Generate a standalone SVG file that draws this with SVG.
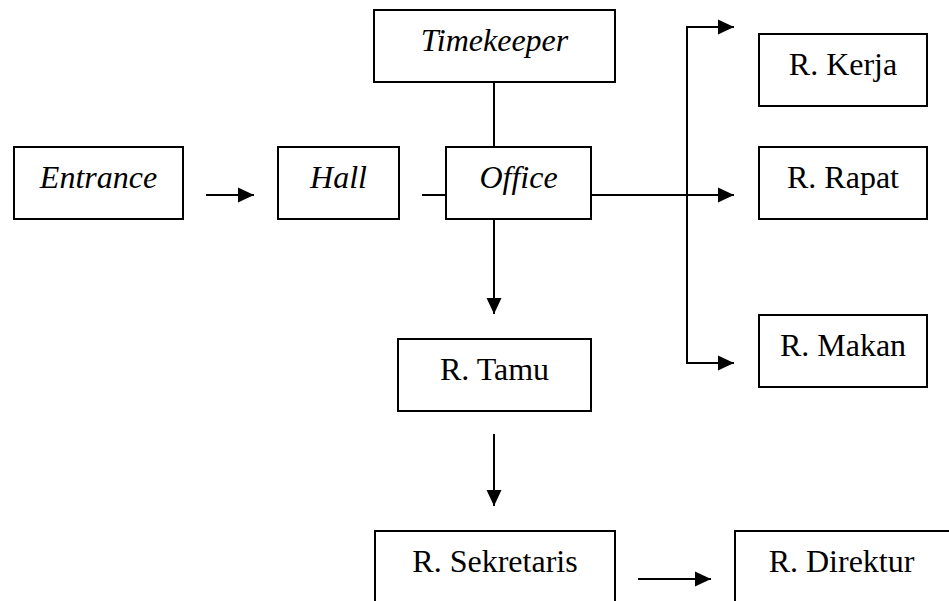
<svg xmlns="http://www.w3.org/2000/svg" width="949" height="601" viewBox="0 0 949 601">
<style>
.box{fill:#fff;stroke:#000;stroke-width:2}
text{font-family:'Liberation Serif','DejaVu Serif',serif;font-size:32px;text-anchor:middle;fill:#000}
.i{font-style:italic}
.c{fill:none;stroke:#000;stroke-width:2}
</style>
<defs>
<marker id="ah" markerUnits="userSpaceOnUse" markerWidth="17" markerHeight="17" viewBox="0 0 17 17" refX="16" refY="8.5" orient="auto">
<path d="M0,1 L16,8.5 L0,16 Z" fill="#000"/>
</marker>
</defs>
<rect width="949" height="601" fill="#fff"/>
<g id="connectors">
<line class="c" x1="206" y1="195" x2="254" y2="195" marker-end="url(#ah)"/>
<line class="c" x1="422" y1="195" x2="446" y2="195"/>
<line class="c" x1="494" y1="82" x2="494" y2="147"/>
<line class="c" x1="591" y1="195" x2="734" y2="195" marker-end="url(#ah)"/>
<line class="c" x1="687" y1="26" x2="687" y2="364"/>
<line class="c" x1="686" y1="27" x2="734" y2="27" marker-end="url(#ah)"/>
<line class="c" x1="686" y1="363" x2="734" y2="363" marker-end="url(#ah)"/>
<line class="c" x1="494" y1="219" x2="494" y2="314" marker-end="url(#ah)"/>
<line class="c" x1="494" y1="434" x2="494" y2="506" marker-end="url(#ah)"/>
<line class="c" x1="638" y1="579" x2="711" y2="579" marker-end="url(#ah)"/>
</g>
<g id="entrance"><rect class="box" x="14" y="147" width="169" height="72"/><text class="i" x="98.5" y="187.5">Entrance</text></g>
<g id="hall"><rect class="box" x="278" y="147" width="121" height="72"/><text class="i" x="338.5" y="187.5">Hall</text></g>
<g id="office"><rect class="box" x="446" y="147" width="145" height="72"/><text class="i" x="518.5" y="187.5">Office</text></g>
<g id="timekeeper"><rect class="box" x="374" y="10" width="241" height="72"/><text class="i" x="494.5" y="50.5">Timekeeper</text></g>
<g id="r-kerja"><rect class="box" x="759" y="34" width="168" height="72"/><text x="843" y="74.5">R. Kerja</text></g>
<g id="r-rapat"><rect class="box" x="759" y="147" width="168" height="72"/><text x="843" y="187.5">R. Rapat</text></g>
<g id="r-makan"><rect class="box" x="759" y="315" width="168" height="72"/><text x="843" y="355.5">R. Makan</text></g>
<g id="r-tamu"><rect class="box" x="398" y="339" width="193" height="72"/><text x="494.5" y="379.5">R. Tamu</text></g>
<g id="r-sekretaris"><rect class="box" x="375" y="531" width="240" height="80"/><text x="495" y="572">R. Sekretaris</text></g>
<g id="r-direktur"><rect class="box" x="735" y="531" width="216" height="80"/><text x="841.5" y="572">R. Direktur</text></g>
</svg>
